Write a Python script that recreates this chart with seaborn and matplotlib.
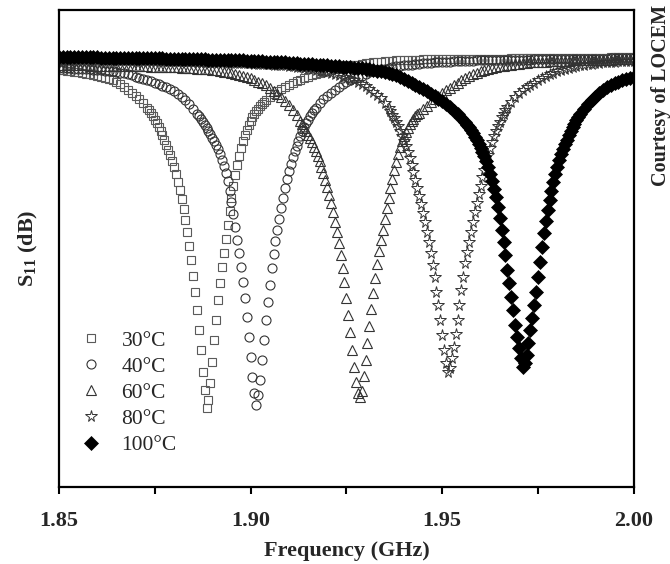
import matplotlib
matplotlib.use("Agg")
import matplotlib.pyplot as plt
from matplotlib.ticker import MultipleLocator
import seaborn as sns

# sweep grid (GHz), 1 MHz step
FREQ = [1.850, 1.851, 1.852, 1.853, 1.854, 1.855, 1.856, 1.857, 1.858, 1.859,
        1.860, 1.861, 1.862, 1.863, 1.864, 1.865, 1.866, 1.867, 1.868, 1.869,
        1.870, 1.871, 1.872, 1.873, 1.874, 1.875, 1.876, 1.877, 1.878, 1.879,
        1.880, 1.881, 1.882, 1.883, 1.884, 1.885, 1.886, 1.887, 1.888, 1.889,
        1.890, 1.891, 1.892, 1.893, 1.894, 1.895, 1.896, 1.897, 1.898, 1.899,
        1.900, 1.901, 1.902, 1.903, 1.904, 1.905, 1.906, 1.907, 1.908, 1.909,
        1.910, 1.911, 1.912, 1.913, 1.914, 1.915, 1.916, 1.917, 1.918, 1.919,
        1.920, 1.921, 1.922, 1.923, 1.924, 1.925, 1.926, 1.927, 1.928, 1.929,
        1.930, 1.931, 1.932, 1.933, 1.934, 1.935, 1.936, 1.937, 1.938, 1.939,
        1.940, 1.941, 1.942, 1.943, 1.944, 1.945, 1.946, 1.947, 1.948, 1.949,
        1.950, 1.951, 1.952, 1.953, 1.954, 1.955, 1.956, 1.957, 1.958, 1.959,
        1.960, 1.961, 1.962, 1.963, 1.964, 1.965, 1.966, 1.967, 1.968, 1.969,
        1.970, 1.971, 1.972, 1.973, 1.974, 1.975, 1.976, 1.977, 1.978, 1.979,
        1.980, 1.981, 1.982, 1.983, 1.984, 1.985, 1.986, 1.987, 1.988, 1.989,
        1.990, 1.991, 1.992, 1.993, 1.994, 1.995, 1.996, 1.997, 1.998, 1.999,
        2.000]

# ---- 30°C: S11 (dB) below, inside (0.5 MHz step) and above the resonance window
F30_FINE = [1.8785, 1.879, 1.8795, 1.880, 1.8805, 1.881, 1.8815, 1.882, 1.8825, 1.883,
            1.8835, 1.884, 1.8845, 1.885, 1.8855, 1.886, 1.8865, 1.887, 1.8875, 1.888,
            1.8885,
            1.889, 1.8895, 1.890, 1.8905, 1.891, 1.8915, 1.892, 1.8925, 1.893, 1.8935,
            1.894, 1.8945, 1.895, 1.8955, 1.896, 1.8965, 1.897, 1.8975, 1.898, 1.8985]
S30_LO = [-2.96, -3.01, -3.07, -3.11, -3.15, -3.19, -3.23, -3.28, -3.32, -3.38,
          -3.46, -3.54, -3.63,
          -3.73, -3.86, -4.0, -4.17, -4.38, -4.63, -4.88, -5.13, -5.42, -5.75,
          -6.13, -6.58, -7.13, -7.75, -8.42, -9.25]
S30_FINE = [-9.67, -10.08, -10.58, -11.08, -11.67, -12.33, -13.0, -13.75, -14.58, -15.5,
            -16.5, -17.67, -18.83, -20.17, -21.5, -23.0, -24.67, -26.33, -28.17, -29.67,
            -31.17,
            -30.5, -29.08, -27.33, -25.5, -23.83, -22.17, -20.75, -19.42, -18.25, -17.08,
            -15.92, -14.75, -13.67, -12.67, -11.75, -10.92, -10.17, -9.5, -8.92, -8.42]
S30_HI = [-8.0, -7.25, -6.67, -6.21, -5.83, -5.5, -5.21, -4.96, -4.75, -4.58,
          -4.42, -4.25, -4.08, -3.92, -3.79, -3.67,
          -3.54, -3.42, -3.31, -3.21, -3.12, -3.04, -2.96, -2.88, -2.79, -2.71,
          -2.66, -2.61, -2.57, -2.53, -2.48, -2.43, -2.4, -2.36, -2.32, -2.28,
          -2.25, -2.22, -2.2, -2.18, -2.16, -2.15, -2.14, -2.13, -2.12, -2.12,
          -2.11, -2.1, -2.09, -2.08, -2.08, -2.08,
          -2.07, -2.07, -2.07, -2.06, -2.06, -2.06, -2.06, -2.05, -2.05, -2.05,
          -2.04, -2.04, -2.04, -2.04, -2.03, -2.03, -2.03, -2.02, -2.02, -2.02,
          -2.01, -2.01, -2.01, -2.0, -2.0, -2.0, -2.0, -1.99, -1.99, -1.99,
          -1.98, -1.98, -1.98, -1.97, -1.97, -1.97, -1.96, -1.96, -1.96, -1.96,
          -1.95, -1.95, -1.95, -1.94, -1.94, -1.94, -1.93, -1.93, -1.93, -1.92]
# extra half-step points on the shoulders
F30_SH = [1.8735, 1.8745, 1.8755, 1.8765, 1.8775, 1.8995, 1.9005, 1.9015, 1.9025, 1.9035]
S30_SH = [-6.33, -6.83, -7.42, -8.08, -8.83, -7.6, -6.94, -6.43, -6.02, -5.66]

# ---- 40°C
F40_FINE = [1.8915, 1.892, 1.8925, 1.893, 1.8935, 1.894, 1.8945, 1.895, 1.8955, 1.896,
            1.8965, 1.897, 1.8975, 1.898, 1.8985, 1.899, 1.8995, 1.900, 1.9005, 1.901,
            1.9015,
            1.902, 1.9025, 1.903, 1.9035, 1.904, 1.9045, 1.905, 1.9055, 1.906, 1.9065,
            1.907, 1.9075, 1.908, 1.9085, 1.909, 1.9095, 1.910, 1.9105, 1.911, 1.9115]
S40_LO = [-2.83, -2.84, -2.85, -2.86, -2.88, -2.89, -2.91, -2.93, -2.94, -2.96,
          -2.98, -3.01, -3.03, -3.07, -3.11, -3.15, -3.2, -3.26, -3.33, -3.43,
          -3.54, -3.63, -3.72, -3.82, -3.92, -4.03,
          -4.15, -4.28, -4.42, -4.58, -4.75, -4.96, -5.21, -5.5, -5.83, -6.21,
          -6.63, -7.08, -7.58, -8.08, -8.63, -9.25]
S40_FINE = [-9.58, -10.0, -10.5, -11.0, -11.58, -12.25, -13.08, -14.0, -15.0, -16.08,
            -17.17, -18.25, -19.42, -20.67, -22.0, -23.58, -25.25, -26.92, -28.58, -29.92,
            -30.92,
            -30.08, -28.83, -27.17, -25.5, -23.83, -22.33, -20.92, -19.5, -18.33, -17.25,
            -16.33, -15.42, -14.5, -13.67, -12.83, -12.08, -11.42, -10.83, -10.25, -9.75]
S40_HI = [-9.33, -8.5, -7.75, -7.13, -6.58, -6.13, -5.75, -5.42, -5.13, -4.88,
          -4.63, -4.4, -4.18, -4.0, -3.83, -3.67,
          -3.56, -3.46, -3.31, -3.18, -3.08, -3.0, -2.93, -2.87, -2.8, -2.74,
          -2.69, -2.65, -2.61, -2.57, -2.53, -2.5, -2.46, -2.43, -2.4, -2.38,
          -2.36, -2.34, -2.32, -2.3, -2.28, -2.26, -2.24, -2.23, -2.22, -2.22,
          -2.2, -2.19, -2.18, -2.18, -2.17, -2.17, -2.16, -2.15, -2.14, -2.14,
          -2.13, -2.13, -2.13, -2.13, -2.12, -2.12, -2.11, -2.11, -2.1, -2.1,
          -2.09, -2.09, -2.08, -2.08, -2.08, -2.08, -2.07, -2.07, -2.06, -2.06,
          -2.05, -2.04, -2.04, -2.03, -2.03, -2.03, -2.02, -2.02, -2.01, -2.01,
          -2.0, -2.0, -1.99]
F40_SH = [1.8865, 1.8875, 1.8885, 1.8895, 1.8905, 1.9125, 1.9135, 1.9145, 1.9155, 1.9165]
S40_SH = [-6.85, -7.33, -7.83, -8.35, -8.93, -8.9, -8.1, -7.43, -6.85, -6.35]

# ---- 60°C
F60_FINE = [1.9185, 1.919, 1.9195, 1.920, 1.9205, 1.921, 1.9215, 1.922, 1.9225, 1.923,
            1.9235, 1.924, 1.9245, 1.925, 1.9255, 1.926, 1.9265, 1.927, 1.9275, 1.928,
            1.9285,
            1.929, 1.9295, 1.930, 1.9305, 1.931, 1.9315, 1.932, 1.9325, 1.933, 1.9335,
            1.934, 1.9345, 1.935, 1.9355, 1.936, 1.9365, 1.937, 1.9375, 1.938, 1.9385]
S60_LO = [-2.58, -2.58, -2.59, -2.59, -2.6, -2.6, -2.61, -2.61, -2.62, -2.62,
          -2.63, -2.63, -2.64, -2.64, -2.65, -2.65, -2.66, -2.66, -2.67, -2.67,
          -2.68, -2.68, -2.69, -2.69, -2.7, -2.71, -2.72, -2.73, -2.74, -2.75,
          -2.76, -2.77, -2.78, -2.8, -2.83, -2.85, -2.87, -2.88, -2.9, -2.94,
          -2.98, -3.02, -3.06, -3.12, -3.18, -3.23, -3.29, -3.37, -3.45, -3.55,
          -3.66, -3.8,
          -3.96, -4.08, -4.25, -4.46, -4.71, -4.96, -5.25, -5.58, -5.92, -6.29,
          -6.75, -7.25, -7.79, -8.38, -9.0, -9.75, -10.58]
S60_FINE = [-11.08, -11.58, -12.17, -12.75, -13.42, -14.08, -14.83, -15.67, -16.5, -17.42,
            -18.42, -19.5, -20.67, -22.0, -23.42, -24.83, -26.33, -27.75, -29.0, -29.92,
            -30.25,
            -29.75, -28.5, -27.17, -25.75, -24.33, -22.92, -21.58, -20.33, -19.17, -18.08,
            -17.17, -16.33, -15.42, -14.5, -13.67, -12.83, -12.08, -11.33, -10.67, -10.0]
S60_HI = [-9.42, -8.5, -7.79, -7.25, -6.83, -6.54, -6.25, -5.96, -5.67, -5.38,
          -5.13, -4.88, -4.67, -4.46, -4.25, -4.04,
          -3.83, -3.63, -3.47, -3.33, -3.2, -3.08, -2.97, -2.88, -2.81, -2.75,
          -2.69, -2.63, -2.58, -2.53, -2.49, -2.45, -2.41, -2.38, -2.35, -2.33,
          -2.31, -2.3, -2.28, -2.27, -2.25, -2.24, -2.23, -2.22, -2.2, -2.19,
          -2.18, -2.18, -2.17, -2.16, -2.15, -2.14, -2.13, -2.13, -2.12, -2.12,
          -2.11, -2.1, -2.1, -2.09, -2.09, -2.08]
F60_SH = [1.9135, 1.9145, 1.9155, 1.9165, 1.9175, 1.9395, 1.9405, 1.9415, 1.9425, 1.9435]
S60_SH = [-7.52, -8.08, -8.68, -9.38, -10.15, -8.93, -8.13, -7.5, -7.03, -6.68]

# ---- 80°C
F80_FINE = [1.9415, 1.942, 1.9425, 1.943, 1.9435, 1.944, 1.9445, 1.945, 1.9455, 1.946,
            1.9465, 1.947, 1.9475, 1.948, 1.9485, 1.949, 1.9495, 1.950, 1.9505, 1.951,
            1.9515,
            1.952, 1.9525, 1.953, 1.9535, 1.954, 1.9545, 1.955, 1.9555, 1.956, 1.9565,
            1.957, 1.9575, 1.958, 1.9585, 1.959, 1.9595, 1.960, 1.9605, 1.961, 1.9615]
S80_LO = [-2.13, -2.13, -2.13, -2.14, -2.14, -2.15, -2.15, -2.16, -2.16, -2.17,
          -2.17, -2.17, -2.17, -2.18, -2.18, -2.18, -2.18, -2.19, -2.19, -2.2,
          -2.2, -2.21, -2.21, -2.22, -2.22, -2.23, -2.23, -2.23, -2.23, -2.24,
          -2.24, -2.25, -2.25, -2.26, -2.27, -2.28, -2.28, -2.29, -2.3, -2.31,
          -2.32, -2.33, -2.34, -2.36, -2.37, -2.38, -2.39, -2.41, -2.42, -2.43,
          -2.44, -2.46, -2.47, -2.48, -2.49, -2.51, -2.53, -2.55, -2.58, -2.6,
          -2.63, -2.68, -2.73, -2.76, -2.8, -2.85, -2.9, -2.96, -3.03, -3.1,
          -3.17, -3.25, -3.33, -3.43, -3.53, -3.63,
          -3.73, -3.83, -3.98, -4.15, -4.33, -4.54, -4.79, -5.04, -5.33, -5.71,
          -6.17, -6.71, -7.33, -8.04, -8.88, -9.83]
S80_FINE = [-10.33, -10.92, -11.5, -12.17, -12.83, -13.5, -14.17, -14.92, -15.67, -16.5,
            -17.33, -18.25, -19.25, -20.25, -21.5, -22.58, -23.83, -25.08, -26.33, -27.42,
            -28.17,
            -27.83, -27.0, -26.08, -25.0, -23.83, -22.58, -21.33, -20.25, -19.08, -18.17,
            -17.33, -16.5, -15.67, -14.83, -14.08, -13.33, -12.67, -11.92, -11.33, -10.67]
S80_HI = [-10.08, -9.0, -8.08, -7.29, -6.63, -6.08, -5.63, -5.25, -4.92, -4.67,
          -4.42, -4.23, -4.03, -3.83, -3.67, -3.5,
          -3.35, -3.2, -3.08, -2.97, -2.88, -2.79, -2.72, -2.66, -2.6, -2.55,
          -2.5, -2.46, -2.42, -2.39, -2.36, -2.34, -2.31, -2.29, -2.27, -2.25,
          -2.23, -2.22, -2.21]
F80_SH = [1.9365, 1.9375, 1.9385, 1.9395, 1.9405, 1.9625, 1.9635, 1.9645, 1.9655, 1.9665]
S80_SH = [-6.43, -7.0, -7.67, -8.45, -9.33, -9.52, -8.52, -7.67, -6.94, -6.34]

# ---- 100°C
F100_FINE = [1.961, 1.9615, 1.962, 1.9625, 1.963, 1.9635, 1.964, 1.9645, 1.965, 1.9655,
             1.966, 1.9665, 1.967, 1.9675, 1.968, 1.9685, 1.969, 1.9695, 1.970, 1.9705,
             1.971,
             1.9715, 1.972, 1.9725, 1.973, 1.9735, 1.974, 1.9745, 1.975, 1.9755, 1.976,
             1.9765, 1.977, 1.9775, 1.978, 1.9785, 1.979, 1.9795, 1.980, 1.9805, 1.981]
S100_LO = [-1.92, -1.92, -1.93, -1.93, -1.93, -1.93, -1.93, -1.94, -1.94, -1.94,
           -1.94, -1.95, -1.95, -1.95, -1.96, -1.96, -1.96, -1.97, -1.97, -1.97,
           -1.98, -1.98, -1.99, -1.99, -2.0, -2.01, -2.02, -2.02, -2.03, -2.04,
           -2.05, -2.06, -2.07, -2.07, -2.08, -2.08, -2.09, -2.1, -2.11, -2.12,
           -2.13, -2.13, -2.14, -2.14, -2.15, -2.16, -2.17, -2.18, -2.19, -2.2,
           -2.22, -2.23, -2.24, -2.26, -2.28, -2.29, -2.31, -2.32, -2.34, -2.36,
           -2.38, -2.4, -2.43, -2.45, -2.48, -2.5, -2.52, -2.54, -2.56, -2.58,
           -2.6, -2.62, -2.64, -2.67, -2.7, -2.73, -2.76, -2.79, -2.83, -2.85,
           -2.88, -2.93, -2.98, -3.04, -3.1, -3.16, -3.23, -3.33, -3.44, -3.59,
           -3.75, -3.91, -4.08, -4.25, -4.42, -4.58,
           -4.75, -4.96, -5.17, -5.38, -5.58, -5.83, -6.08, -6.38, -6.67, -7.0,
           -7.33, -7.75, -8.25, -8.83, -9.5]
S100_FINE = [-10.17, -10.58, -11.08, -11.67, -12.25, -12.92, -13.58, -14.42, -15.33, -16.33,
             -17.33, -18.42, -19.67, -20.75, -21.92, -23.0, -24.25, -25.25, -26.17, -27.0,
             -27.75,
             -27.42, -26.75, -25.75, -24.67, -23.67, -22.58, -21.5, -20.25, -19.0, -17.75,
             -16.58, -15.58, -14.67, -13.83, -13.08, -12.33, -11.67, -11.08, -10.5, -10.0]
S100_HI = [-9.17, -8.42, -7.75, -7.17, -6.67, -6.21, -5.83, -5.5, -5.21, -4.92,
           -4.67, -4.42, -4.25, -4.08, -3.96, -3.83, -3.73, -3.64, -3.57]
F100_SH = [1.9565, 1.9575, 1.9585, 1.9595, 1.9605, 1.9815, 1.9825, 1.9835, 1.9845, 1.9855]
S100_SH = [-7.53, -7.99, -8.53, -9.15, -9.83, -9.58, -8.78, -8.07, -7.45, -6.91]

LABELS = ["30°C", "40°C", "60°C", "80°C", "100°C"]


def sweep(fine_f, s_lo, s_fine, s_hi, sh_f, sh_s):
    # grid points outside the fine window + fine window + shoulder points
    lo = [g for g in FREQ if g < fine_f[0] - 1e-9]
    hi = [g for g in FREQ if g > fine_f[-1] + 1e-9]
    assert len(lo) == len(s_lo) and len(hi) == len(s_hi)
    assert len(fine_f) == len(s_fine) and len(sh_f) == len(sh_s)
    pts = sorted(zip(lo + fine_f + hi + sh_f, s_lo + s_fine + s_hi + sh_s))
    return [p[0] for p in pts], [p[1] for p in pts]


sns.set_style("white")
plt.rcParams["font.family"] = ["Liberation Serif", "DejaVu Serif"]
plt.rcParams["mathtext.fontset"] = "custom"
plt.rcParams["mathtext.rm"] = "Liberation Serif"
plt.rcParams["mathtext.bf"] = "Liberation Serif:bold"

fig = plt.figure(figsize=(6.7, 5.64), dpi=100)
ax = fig.add_axes([0.088, 0.136, 0.858, 0.846])

series = [
    (sweep(F30_FINE, S30_LO, S30_FINE, S30_HI, F30_SH, S30_SH),
     dict(marker="s", markersize=6, markerfacecolor="none", markeredgecolor="#5a5a5a", markeredgewidth=0.8)),
    (sweep(F40_FINE, S40_LO, S40_FINE, S40_HI, F40_SH, S40_SH),
     dict(marker="o", markersize=6.5, markerfacecolor="none", markeredgecolor="#333333", markeredgewidth=0.8)),
    (sweep(F60_FINE, S60_LO, S60_FINE, S60_HI, F60_SH, S60_SH),
     dict(marker="^", markersize=7, markerfacecolor="none", markeredgecolor="#333333", markeredgewidth=0.8)),
    (sweep(F80_FINE, S80_LO, S80_FINE, S80_HI, F80_SH, S80_SH),
     dict(marker="*", markersize=8.5, markerfacecolor="none", markeredgecolor="#333333", markeredgewidth=0.7)),
    (sweep(F100_FINE, S100_LO, S100_FINE, S100_HI, F100_SH, S100_SH),
     dict(marker="D", markersize=7.5, markerfacecolor="black", markeredgecolor="black", markeredgewidth=0.5)),
]
for ((f, s), style), lab in zip(series, LABELS):
    sns.lineplot(x=f, y=s, ax=ax, linestyle="", label=lab,
                 estimator=None, sort=False, **style)

ax.set_xlim(1.85, 2.00)
ax.set_ylim(-37.75, 2)
ax.set_xticks([1.85, 1.90, 1.95, 2.00])
ax.set_xticklabels(["1.85", "1.90", "1.95", "2.00"], fontweight="bold", fontsize=16)
ax.xaxis.set_minor_locator(MultipleLocator(0.025))
ax.set_yticks([])
ax.tick_params(axis="x", which="both", direction="out", bottom=True, length=5, width=1.5, color="black", pad=12)

for sp in ax.spines.values():
    sp.set_color("black")
    sp.set_linewidth(1.6)

ax.set_xlabel("Frequency (GHz)", fontsize=16, fontweight="bold", labelpad=7)
ax.set_ylabel(r"$\mathbf{S}_{\mathbf{11}}$ (dB)", fontsize=16, fontweight="bold", labelpad=14)

ax.legend(loc="upper left", bbox_to_anchor=(0.0, 0.36), frameon=False, fontsize=15.5,
          labelspacing=0.28, handletextpad=0.6, handlelength=1.6, borderaxespad=0.3)

fig.text(0.986, 0.83, "Courtesy of LOCEM", rotation=90, ha="center", va="center",
         fontsize=14.5, fontweight="bold")

fig.savefig("out.png", dpi=100)
